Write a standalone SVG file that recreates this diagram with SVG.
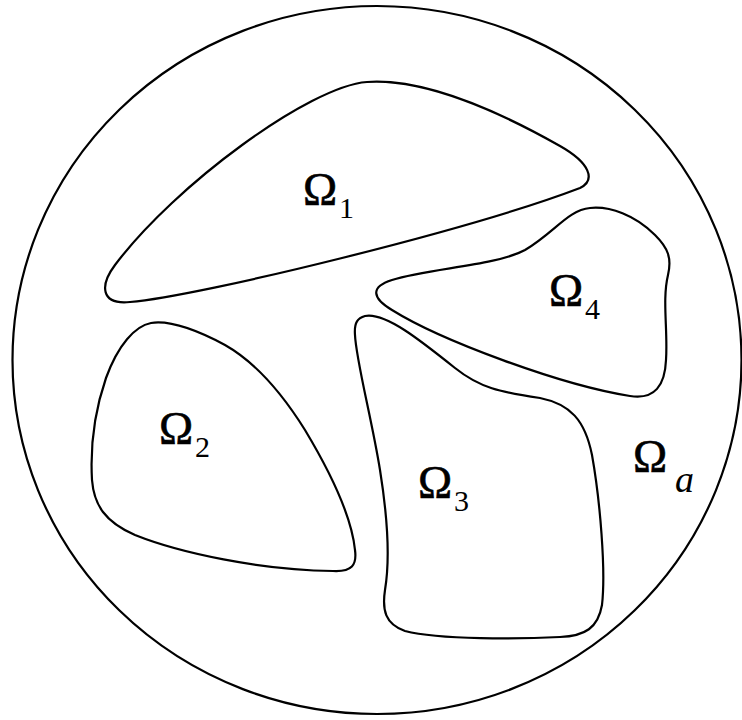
<svg xmlns="http://www.w3.org/2000/svg" width="742" height="720" viewBox="0 0 742 720">
<style>
.b{fill:none;stroke:#000;stroke-width:2.2;stroke-linejoin:round}
.o{font-family:"Liberation Serif","Times New Roman",serif;font-size:46px;fill:#000;stroke:#000;stroke-width:0.6}
.s{font-family:"Liberation Serif","Times New Roman",serif;font-size:30px;fill:#000}
.i{font-family:"Liberation Serif","Times New Roman",serif;font-size:38px;font-style:italic;fill:#000}
</style>
<rect width="742" height="720" fill="#fff"/>
<g id="domain">
<ellipse class="b" cx="377" cy="360" rx="364.5" ry="354"/>
</g>
<g id="omega1">
<path class="b" d="M 367 82 C 424 78, 500 112, 560 146 C 590 163, 596 180, 580 188 C 470 230, 200 296, 130 302 C 100 305, 100 285, 115 265 C 175 185, 310 86, 367 82 Z"/>
<text class="o" x="303" y="205">Ω</text><text class="s" x="339" y="218">1</text>
</g>
<g id="omega2">
<path class="b" d="M 151 323 C 135 326, 118 345, 106 378 C 95 410, 90 445, 92 480 C 94 505, 105 522, 135 535 C 180 553, 260 570, 333 571 C 352 572, 357 565, 355 550 C 352 520, 335 480, 305 430 C 280 390, 255 362, 225 345 C 195 329, 170 320, 151 323 Z"/>
<text class="o" x="159" y="444">Ω</text><text class="s" x="195" y="457">2</text>
</g>
<g id="omega3">
<path class="b" d="M 365 316 C 385 312, 420 340, 455 368 C 480 388, 500 392, 540 398 C 570 404, 585 420, 592 455 C 600 500, 606 570, 602 605 C 598 628, 585 636, 560 637 C 520 639, 440 640, 405 631 C 385 624, 382 610, 385 590 C 390 560, 388 520, 380 470 C 372 420, 356 360, 355 335 C 354 322, 358 318, 365 316 Z"/>
<text class="o" x="418" y="498">Ω</text><text class="s" x="454" y="511">3</text>
</g>
<g id="omega4">
<path class="b" d="M 590 208 C 568 210, 555 232, 525 250 C 495 266, 430 268, 392 280 C 370 287, 372 298, 392 310 C 440 340, 560 385, 630 396 C 655 400, 665 385, 666 360 C 668 330, 662 300, 668 275 C 672 258, 668 248, 655 235 C 635 215, 610 206, 590 208 Z"/>
<text class="o" x="549" y="306">Ω</text><text class="s" x="585" y="319">4</text>
</g>
<g id="omegaa">
<text class="o" x="633" y="472">Ω</text><text class="i" x="675" y="492">a</text>
</g>
<g id="connectors"></g>
</svg>
